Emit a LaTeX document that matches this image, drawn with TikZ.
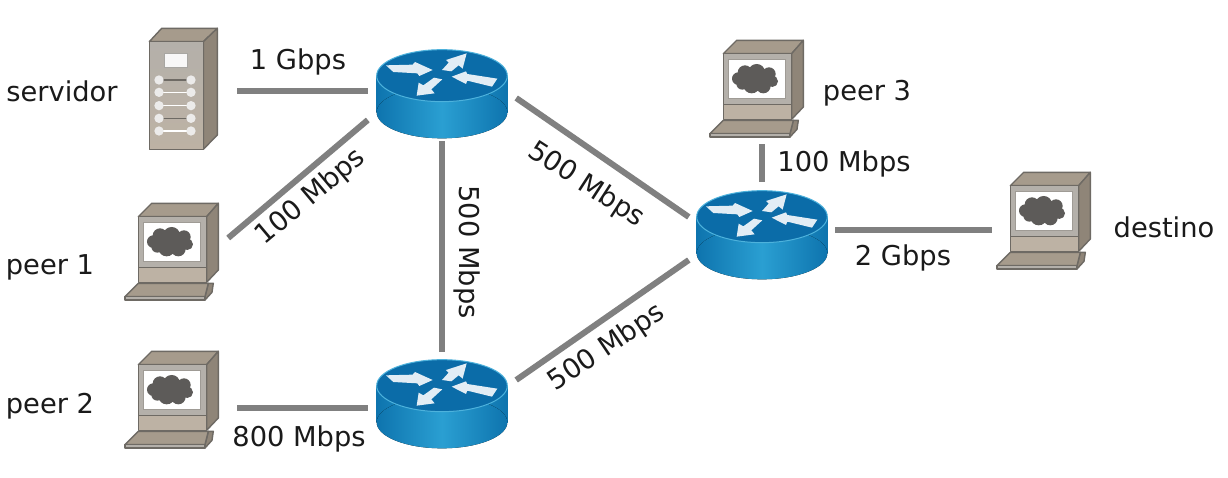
\documentclass[tikz,border=0pt]{standalone}
\usepackage{fontspec}
\setmainfont{DejaVu Sans}
\definecolor{lnk}{HTML}{808080}
\definecolor{txt}{HTML}{1A1A1A}
\definecolor{rtop}{HTML}{0B6CA8}
\definecolor{rdark}{HTML}{0E74AE}
\definecolor{rlight}{HTML}{2A9FD2}
\definecolor{rrim}{HTML}{4DB2DC}
\definecolor{cfront}{HTML}{B4B0AA}
\definecolor{cbase}{HTML}{BDB2A4}
\definecolor{ctop}{HTML}{A69B8C}
\definecolor{cside}{HTML}{8F8578}
\definecolor{cedge}{HTML}{6E6A64}
\definecolor{ccloud}{HTML}{5D5B59}
\tikzset{
  x=1pt,y=-1pt,
  iconscale/.style={x=.3333pt,y=-.3333pt},
  lnkline/.style={draw=lnk,line width=6pt},
  lab/.style={inner sep=0pt,text=txt,font=\fontsize{27.3}{30}\selectfont},
  box/.style={inner sep=0pt,minimum width=#1},
  edge/.style={draw=cedge,line width=1.4pt,line join=round},
  arrowfill/.style={fill=white!88!rtop,draw=none},
  routericon/.pic={
   \begin{scope}[iconscale]
    \fill[left color=rdark,right color=rdark,middle color=rlight] (50,137) rectangle (442,247);
    \fill[left color=rdark,right color=rdark,middle color=rlight] (246,247) ellipse [x radius=196,y radius=78];
    \fill[rtop] (246,137) ellipse [x radius=196,y radius=78];
    \draw[rrim,line width=1pt] (246,137) ellipse [x radius=196,y radius=78];
    \path[arrowfill] (78,106) -- (158,104) -- (165,96) -- (218,120) -- (178,138) -- (172,130) -- (100,126) -- cycle;
    \path[arrowfill] (246,120) -- (266,98) -- (258,90) -- (320,70) -- (308,116) -- (296,106) -- (274,124) -- cycle;
    \path[arrowfill] (275,140) -- (318,124) -- (322,132) -- (412,146) -- (396,170) -- (322,152) -- (318,162) -- cycle;
    \path[arrowfill] (170,197) -- (176,158) -- (190,166) -- (222,143) -- (247,148) -- (214,178) -- (224,190) -- cycle;
   \end{scope}
  },
  servericon/.pic={
   \begin{scope}[iconscale]
    \fill[ctop,edge] (88,65) -- (125,25) -- (292,25) -- (250,65) -- cycle;
    \fill[cside,edge] (250,65) -- (292,25) -- (292,345) -- (250,388) -- cycle;
    \fill[top color=cfront,bottom color=cbase,edge] (88,65) rectangle (250,388);
    \fill[white!90!cfront,draw=cedge!60,line width=.8pt] (133,100) rectangle (203,143);
    \foreach \yy/\cc in {180/cedge,217/white,257/white,295/cedge,333/white}{
      \draw[\cc,line width=1.3pt] (117,\yy) -- (213,\yy);
      \fill[white!75!cfront] (117,\yy) circle [x radius=14,y radius=14];
      \fill[white!75!cfront] (213,\yy) circle [x radius=14,y radius=14];
    }
   \end{scope}
  },
  pcicon/.pic={
   \begin{scope}[iconscale]
    \fill[ctop,edge] (85,65) -- (125,25) -- (325,25) -- (290,65) -- cycle;
    \fill[cside,edge] (290,65) -- (325,25) -- (325,225) -- (290,262) -- cycle;
    \fill[cfront,edge] (85,65) rectangle (290,218);
    \fill[cbase,edge] (85,218) rectangle (290,262);
    \fill[white,draw=cfront!70!cedge,line width=1.4pt] (100,82) rectangle (272,200);
    \fill[ccloud] (130,140) circle [x radius=19,y radius=19]
      (150,122) circle [x radius=22,y radius=22]
      (185,118) circle [x radius=24,y radius=22]
      (222,126) circle [x radius=20,y radius=20]
      (232,148) circle [x radius=17,y radius=17]
      (205,162) circle [x radius=22,y radius=22]
      (170,162) circle [x radius=24,y radius=22]
      (142,155) circle [x radius=18,y radius=18]
      (180,140) circle [x radius=40,y radius=30];
    \fill[cside,edge] (295,265) -- (310,265) -- (306,292) -- (285,315) -- (285,305) -- cycle;
    \fill[ctop,edge] (85,265) -- (295,265) -- (285,305) -- (45,305) -- cycle;
    \fill[cfront,edge] (45,305) rectangle (285,315);
   \end{scope}
  },
}
\begin{document}
\begin{tikzpicture}
\useasboundingbox (0,0) rectangle (1228,478);
\fill[white] (0,0) rectangle (1228,478);

% device anchor boxes
\node[box=97,minimum height=130] (srv) at (188.5,91) {};
\node[box=100,minimum height=105] (p1) at (178,252) {};
\node[box=109,minimum height=100] (p2) at (182.5,408) {};
\node[box=110,minimum height=104] (p3) at (762,92) {};
\node[box=106,minimum height=110] (dst) at (1045,230) {};
\node[box=148,minimum height=100] (r1) at (442,91) {};
\node[box=148,minimum height=98] (r3) at (442,401) {};
\node[box=146,minimum height=100] (r2) at (762,232) {};

% links
\draw[lnkline] (srv.east) -- (r1.west);
\draw[lnkline] ([yshift=14pt]p1.east) -- ([yshift=-29pt]r1.west);
\draw[lnkline] (r1.south) -- (r3.north);
\draw[lnkline] ([yshift=-7pt]r1.east) -- ([yshift=15pt]r2.west);
\draw[lnkline] ([yshift=21pt]r3.east) -- ([yshift=-28pt]r2.west);
\draw[lnkline] (p2.east) -- ([yshift=-7pt]r3.west);
\draw[lnkline] (p3.south) -- (r2.north);
\draw[lnkline] ([yshift=2pt]r2.east) -- (dst.west);

% icons
\pic at (120,20) {servericon};
\pic at (110,195) {pcicon};
\pic at (110,343) {pcicon};
\pic at (695,32) {pcicon};
\pic at (982,164) {pcicon};
\pic at (360,30) {routericon};
\pic at (360,340) {routericon};
\pic at (680,171) {routericon};

% labels
\node[lab] (l1) at (62,91) {servidor};
\node[lab] (l2) at (50,267) {peer 1};
\node[lab] (l3) at (50,406) {peer 2};
\node[lab] (l4) at (867,93) {peer 3};
\node[lab] (l5) at (1164,227) {destino};
\node[lab] (s1) at (298,62) {1 Gbps};
\node[lab,rotate=40] (s2) at (311,197) {100 Mbps};
\node[lab,rotate=-90] (s3) at (467,252) {500 Mbps};
\node[lab,rotate=-33] (s4) at (586,185) {500 Mbps};
\node[lab,rotate=34] (s5) at (607,348) {500 Mbps};
\node[lab] (s6) at (299,439) {800 Mbps};
\node[lab] (s7) at (844,164) {100 Mbps};
\node[lab] (s8) at (903,258) {2 Gbps};
\end{tikzpicture}
\end{document}
